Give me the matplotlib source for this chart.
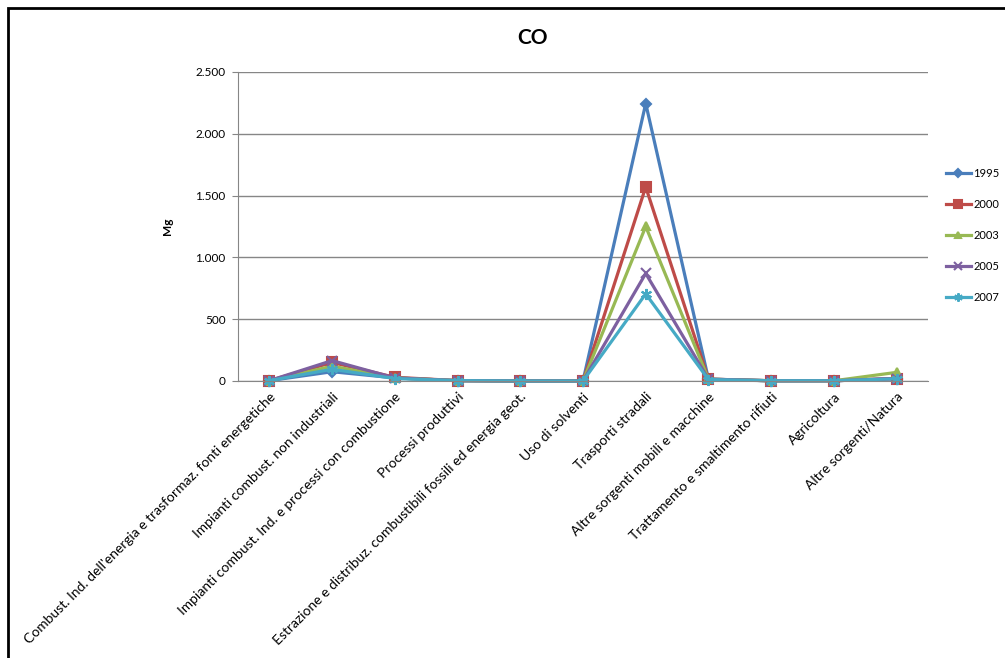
import matplotlib
matplotlib.use("Agg")
import matplotlib.pyplot as plt
from matplotlib.patches import Rectangle
from matplotlib.ticker import FuncFormatter

plt.rcParams['font.family'] = ['Lato', 'DejaVu Sans']

categories = [
    "Combust. Ind. dell'energia e trasformaz. fonti energetiche",
    "Impianti combust. non industriali",
    "Impianti combust. Ind. e processi con combustione",
    "Processi produttivi",
    "Estrazione e distribuz. combustibili fossili ed energia geot.",
    "Uso di solventi",
    "Trasporti stradali",
    "Altre sorgenti mobili e macchine",
    "Trattamento e smaltimento rifiuti",
    "Agricoltura",
    "Altre sorgenti/Natura",
]
years = ["1995", "2000", "2003", "2005", "2007"]
co_1995 = [3, 75, 25, 3, 0, 0, 2245, 15, 2, 2, 20]
co_2000 = [3, 150, 30, 3, 0, 0, 1570, 15, 2, 2, 20]
co_2003 = [3, 120, 25, 3, 0, 0, 1250, 15, 2, 2, 70]
co_2005 = [3, 165, 25, 3, 0, 0, 870, 15, 2, 2, 20]
co_2007 = [3, 95, 20, 3, 0, 0, 705, 12, 2, 2, 18]
series = [co_1995, co_2000, co_2003, co_2005, co_2007]

colors = ["#4A7EBB", "#BE4B48", "#98B954", "#7D60A0", "#46AAC5"]
markers = ["D", "s", "^", "x", (6, 2, 0)]
msizes = [5, 7, 6, 7, 8]

fig = plt.figure(figsize=(10.05, 6.58), dpi=100)
W, H = 1005, 658
ax = fig.add_axes([238 / W, 1 - 381 / H, 690 / W, 309 / H])

x = list(range(len(categories)))
for vals, yr, c, m, ms in zip(series, years, colors, markers, msizes):
    ax.plot(x, vals, color=c, lw=2.3, marker=m, ms=ms, mew=1.5,
            mec=c, mfc=c, label=yr, clip_on=False)

ax.set_xlim(-0.5, len(categories) - 0.5)
ax.set_ylim(0, 2500)
ax.set_yticks(range(0, 2501, 500))
ax.yaxis.set_major_formatter(FuncFormatter(lambda v, p: f"{int(v):,}".replace(",", ".")))
ax.grid(axis='y', color='#868686', lw=1)
ax.set_axisbelow(True)
for s in ['top', 'right']:
    ax.spines[s].set_visible(False)
ax.spines['left'].set_color('#868686')
ax.spines['bottom'].set_color('#868686')
ax.tick_params(axis='y', length=4, color='#868686', labelsize=8.5, pad=5)
ax.tick_params(axis='x', length=0, labelsize=10, pad=7)
ax.set_xticks(x)
ax.set_xticklabels(categories, rotation=45, ha='right', rotation_mode='anchor')
ax.set_ylabel("Mg", fontsize=8.5, fontweight='bold', labelpad=16)

fig.text(533 / W, 1 - 38 / H, "CO", fontsize=15, fontweight='bold', ha='center', va='center')

ax.legend(loc='upper left', bbox_to_anchor=(940 / W, 1 - 162 / H),
          bbox_transform=fig.transFigure, frameon=False, fontsize=8,
          handlelength=2.3, labelspacing=1.8, borderpad=0, handletextpad=0.2,
          markerscale=0.75)

fig.patches.append(Rectangle((8 / W, -0.1), 1.2, 1 - 8 / H + 0.1,
                             transform=fig.transFigure, fill=False,
                             edgecolor='black', lw=2))

fig.savefig("out.png", dpi=100)
